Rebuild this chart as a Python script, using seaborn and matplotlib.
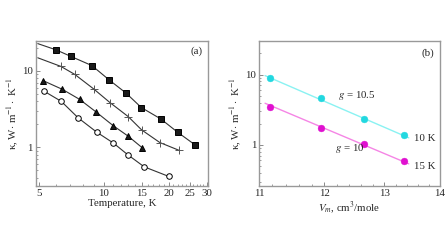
import matplotlib
matplotlib.use('Agg')
import matplotlib.pyplot as plt
import matplotlib.ticker as mticker
import numpy as np
import pandas as pd
import seaborn as sns

# (a) теплопровідність від температури
sq_T = [4.95, 6.02, 7.06, 8.82, 10.6, 12.7, 14.95, 18.4, 22.0, 26.4]
sq_k = [22.7, 18.8, 15.4, 11.7, 7.6, 5.1, 3.3, 2.34, 1.57, 1.08]
pl_T = [4.95, 6.34, 7.35, 9.0, 10.7, 13.0, 15.0, 18.2, 22.4]
pl_k = [14.8, 11.4, 8.96, 5.77, 3.83, 2.51, 1.68, 1.15, 0.906]
tr_T = [5.25, 6.44, 7.73, 9.22, 11.1, 13.0, 15.1]
tr_k = [7.41, 5.71, 4.23, 2.89, 1.90, 1.39, 0.98]
ci_T = [5.28, 6.36, 7.63, 9.29, 11.1, 12.9, 15.4, 20.0]
ci_k = [5.43, 3.98, 2.41, 1.57, 1.13, 0.80, 0.553, 0.414]

# (b) теплопровідність від молярного об'єму
V = [11.16, 11.95, 12.66, 13.35]
k10 = [8.97, 4.6, 2.37, 1.36]
k15 = [3.47, 1.75, 1.03, 0.585]
fit_V = [11.09, 13.43]
fit10 = [9.68, 1.26]
fit15 = [3.91, 0.537]

sns.set_theme(style='ticks')
plt.rcParams['font.family'] = ['Liberation Serif', 'DejaVu Serif']
plt.rcParams['mathtext.fontset'] = 'stix'
fs = 7.8

fig = plt.figure(figsize=(4.48, 2.52), dpi=100)
ax1 = fig.add_axes([0.080, 0.262, 0.384, 0.575])
ax2 = fig.add_axes([0.578, 0.262, 0.404, 0.575])

series = [(sq_T, sq_k, 's', 'k', 1), (pl_T, pl_k, '+', 'k', 1),
          (tr_T, tr_k, '^', 'k', 0), (ci_T, ci_k, 'o', 'white', 0)]
for T, k, m, fc, skip in series:
    df = pd.DataFrame({'T': T, 'k': k})
    sns.lineplot(data=df, x='T', y='k', ax=ax1, color='#333333', lw=0.8, sort=False)
    d = df.iloc[skip:]
    ax1.plot(d['T'], d['k'], ls='none', marker=m, ms=4.0 if m != '+' else 5.5,
             mfc=fc, mec='black' if m != '+' else '#555555', mew=0.7)

ax1.set_xscale('log')
ax1.set_yscale('log')
ax1.set_xlim(4.85, 30.4)
ax1.set_ylim(0.31, 24.5)
ax1.xaxis.set_major_locator(mticker.FixedLocator([5, 10, 15, 20, 25, 30]))
ax1.xaxis.set_major_formatter(mticker.FormatStrFormatter('%d'))
ax1.xaxis.set_minor_locator(mticker.FixedLocator(np.arange(5, 31, 1.0)))
ax1.xaxis.set_minor_formatter(mticker.NullFormatter())
ax1.set_xlabel('Temperature, K', fontsize=fs, labelpad=1)
ax1.set_ylabel(r'κ, W$\cdot$ m$^{-1}\cdot$ K$^{-1}$', fontsize=fs, labelpad=1)
ax1.text(0.97, 0.93, '(a)', transform=ax1.transAxes, ha='right', va='center', fontsize=fs)

for Vs, ks, fv, fk, mc, lc in [(V, k10, fit_V, fit10, '#22d8e0', '#8af2f2'),
                               (V, k15, fit_V, fit15, '#e010d0', '#f585e5')]:
    sns.lineplot(x=fv, y=fk, ax=ax2, color=lc, lw=1.0)
    sns.scatterplot(x=Vs, y=ks, ax=ax2, color=mc, s=24, edgecolor=mc, linewidth=0.3, zorder=3)

ax2.set_xscale('log')
ax2.set_yscale('log')
ax2.set_xlim(11, 14)
ax2.set_ylim(0.26, 30)
ax2.xaxis.set_major_locator(mticker.FixedLocator([11, 12, 13, 14]))
ax2.xaxis.set_major_formatter(mticker.FormatStrFormatter('%d'))
ax2.xaxis.set_minor_locator(mticker.FixedLocator(np.arange(11, 14, 0.2)))
ax2.xaxis.set_minor_formatter(mticker.NullFormatter())
ax2.set_xlabel(r'$V_m$, cm$^3$/mole', fontsize=fs, labelpad=1)
ax2.set_ylabel(r'κ, W$\cdot$ m$^{-1}\cdot$ K$^{-1}$', fontsize=fs, labelpad=1)
ax2.text(0.97, 0.917, '(b)', transform=ax2.transAxes, ha='right', va='center', fontsize=fs)
ax2.text(12.22, 5.0, r'$g$ = 10.5', fontsize=fs, va='center')
ax2.text(12.18, 0.88, r'$g$ = 10', fontsize=fs, va='center')
ax2.text(13.52, 1.22, '10 K', fontsize=fs, va='center')
ax2.text(13.52, 0.49, '15 K', fontsize=fs, va='center')

for ax in (ax1, ax2):
    ax.yaxis.set_major_formatter(mticker.FormatStrFormatter('%g'))
    ax.yaxis.set_minor_formatter(mticker.NullFormatter())
    ax.tick_params(which='both', direction='in', labelsize=fs, color='#777777', pad=2)
    ax.tick_params(which='major', length=3, width=0.6)
    ax.tick_params(which='minor', length=1.5, width=0.5)
    for s in ax.spines.values():
        s.set_color('#999999')
        s.set_linewidth(1.0)
    ax.grid(False)

fig.savefig('out.png', dpi=100)
